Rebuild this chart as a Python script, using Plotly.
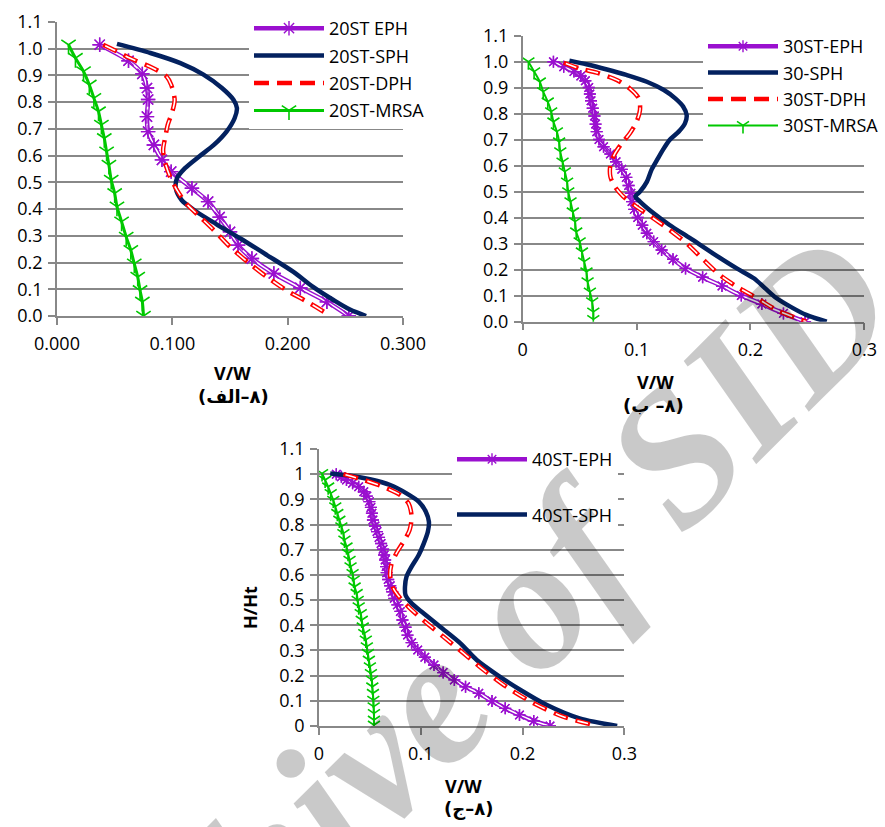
import plotly.graph_objects as go

W, H = 885, 827

# ------------------------------------------------------------------ data
# (8-a) 20-storey
h20_eph = [1.015, 0.955, 0.906, 0.853, 0.810, 0.746, 0.690, 0.640, 0.584, 0.540,
           0.478, 0.428, 0.370, 0.315, 0.265, 0.215, 0.159, 0.105, 0.053, 0.0]
v20_eph = [0.037, 0.062, 0.074, 0.078, 0.079, 0.078, 0.079, 0.084, 0.091, 0.099,
           0.117, 0.131, 0.141, 0.150, 0.157, 0.169, 0.188, 0.211, 0.234, 0.253]
h20_sph = [1.018, 0.984, 0.946, 0.903, 0.853, 0.809, 0.778, 0.740, 0.690, 0.640, 0.596, 0.553,
           0.515, 0.478, 0.434, 0.390, 0.344, 0.290, 0.228, 0.165, 0.109, 0.059, 0.024, 0.0]
v20_sph = [0.052, 0.081, 0.107, 0.127, 0.143, 0.153, 0.156, 0.154, 0.147, 0.136, 0.123, 0.111,
           0.104, 0.103, 0.108, 0.121, 0.138, 0.159, 0.182, 0.205, 0.222, 0.240, 0.254, 0.268]
h20_dph = [1.015, 0.990, 0.965, 0.928, 0.896, 0.865, 0.809, 0.765, 0.715, 0.671, 0.621, 0.571,
           0.521, 0.471, 0.421, 0.371, 0.321, 0.259, 0.196, 0.146, 0.096, 0.053, 0.006]
v20_dph = [0.040, 0.052, 0.063, 0.083, 0.095, 0.099, 0.102, 0.100, 0.096, 0.094, 0.092, 0.094,
           0.098, 0.104, 0.112, 0.124, 0.136, 0.150, 0.167, 0.182, 0.199, 0.217, 0.235]
h20_mrsa = [1.015, 0.965, 0.915, 0.865, 0.815, 0.765, 0.715, 0.665, 0.615, 0.565, 0.509,
            0.459, 0.409, 0.353, 0.296, 0.246, 0.196, 0.146, 0.096, 0.053, 0.0]
v20_mrsa = [0.010, 0.016, 0.023, 0.028, 0.032, 0.036, 0.0385, 0.041, 0.043, 0.045, 0.047,
            0.050, 0.052, 0.056, 0.060, 0.064, 0.067, 0.070, 0.072, 0.074, 0.075]

# (8-b) 30-storey
h30_eph = [1.0, 0.981, 0.962, 0.945, 0.927, 0.901, 0.876, 0.850, 0.821, 0.791, 0.760, 0.731,
           0.701, 0.673, 0.645, 0.615, 0.586, 0.555, 0.524, 0.494, 0.462, 0.432, 0.401, 0.371,
           0.340, 0.308, 0.276, 0.240, 0.205, 0.171, 0.137, 0.101, 0.068, 0.032, 0.0]
v30_eph = [0.027, 0.036, 0.045, 0.051, 0.055, 0.058, 0.059, 0.060, 0.0615, 0.063, 0.064, 0.065,
           0.067, 0.071, 0.077, 0.082, 0.087, 0.091, 0.093, 0.095, 0.096, 0.098, 0.101, 0.105,
           0.109, 0.115, 0.122, 0.132, 0.143, 0.158, 0.175, 0.192, 0.210, 0.229, 0.248]
h30_sph = [1.004, 0.990, 0.970, 0.949, 0.923, 0.891, 0.859, 0.827, 0.795, 0.763, 0.731, 0.699,
           0.660, 0.622, 0.583, 0.538, 0.500, 0.481, 0.462, 0.417, 0.372, 0.321, 0.263, 0.205,
           0.167, 0.128, 0.090, 0.058, 0.026, 0.0]
v30_sph = [0.041, 0.056, 0.074, 0.091, 0.109, 0.124, 0.134, 0.141, 0.144, 0.1425, 0.137, 0.129,
           0.123, 0.118, 0.113, 0.109, 0.103, 0.099, 0.103, 0.115, 0.129, 0.147, 0.167, 0.188,
           0.203, 0.213, 0.223, 0.235, 0.249, 0.267]
h30_dph = [0.996, 0.974, 0.958, 0.929, 0.897, 0.859, 0.814, 0.769, 0.724, 0.686, 0.647, 0.603,
           0.558, 0.519, 0.483, 0.442, 0.397, 0.353, 0.301, 0.237, 0.180, 0.135, 0.090, 0.045, 0.0]
v30_dph = [0.036, 0.050, 0.065, 0.083, 0.094, 0.102, 0.103, 0.100, 0.094, 0.087, 0.081, 0.077,
           0.077, 0.081, 0.088, 0.100, 0.115, 0.129, 0.144, 0.159, 0.173, 0.188, 0.206, 0.223, 0.249]
h30_mrsa = [1.0, 0.962, 0.923, 0.885, 0.846, 0.808, 0.769, 0.731, 0.692, 0.654, 0.615, 0.577,
            0.538, 0.500, 0.462, 0.423, 0.385, 0.346, 0.308, 0.269, 0.231, 0.192, 0.154, 0.115,
            0.077, 0.038, 0.009]
v30_mrsa = [0.005, 0.010, 0.015, 0.018, 0.022, 0.025, 0.027, 0.030, 0.032, 0.033, 0.035, 0.037,
            0.039, 0.040, 0.042, 0.044, 0.046, 0.047, 0.050, 0.052, 0.054, 0.056, 0.057, 0.059,
            0.061, 0.062, 0.062]

# (8-c) 40-storey
h40_eph = [1.0, 0.990, 0.977, 0.964, 0.950, 0.930, 0.913, 0.891, 0.868, 0.845, 0.818, 0.794,
           0.772, 0.749, 0.725, 0.702, 0.679, 0.659, 0.633, 0.609, 0.582, 0.557, 0.533, 0.507,
           0.481, 0.455, 0.421, 0.392, 0.361, 0.331, 0.302, 0.273, 0.242, 0.212, 0.183, 0.156,
           0.130, 0.099, 0.070, 0.044, 0.020, 0.0]
v40_eph = [0.017, 0.022, 0.027, 0.033, 0.039, 0.044, 0.047, 0.0495, 0.051, 0.052, 0.053, 0.055,
           0.057, 0.059, 0.061, 0.063, 0.064, 0.065, 0.066, 0.0665, 0.068, 0.070, 0.072, 0.074,
           0.077, 0.080, 0.082, 0.085, 0.087, 0.091, 0.097, 0.104, 0.113, 0.122, 0.133, 0.144,
           0.157, 0.170, 0.183, 0.197, 0.211, 0.227]
h40_sph = [1.003, 0.994, 0.980, 0.957, 0.924, 0.891, 0.851, 0.811, 0.772, 0.725, 0.679, 0.633,
           0.593, 0.553, 0.520, 0.487, 0.447, 0.394, 0.328, 0.262, 0.203, 0.143, 0.083, 0.030, 0.0]
v40_sph = [0.011, 0.031, 0.050, 0.070, 0.086, 0.098, 0.105, 0.108, 0.107, 0.103, 0.098, 0.091,
           0.086, 0.0845, 0.085, 0.091, 0.103, 0.119, 0.139, 0.155, 0.175, 0.198, 0.224, 0.256, 0.293]
h40_dph = [1.0, 0.977, 0.950, 0.917, 0.884, 0.831, 0.778, 0.732, 0.686, 0.639, 0.593, 0.547,
           0.507, 0.461, 0.408, 0.355, 0.289, 0.222, 0.156, 0.090, 0.037, 0.004]
v40_dph = [0.024, 0.044, 0.063, 0.080, 0.088, 0.091, 0.089, 0.083, 0.076, 0.071, 0.070, 0.073,
           0.080, 0.091, 0.106, 0.122, 0.142, 0.162, 0.184, 0.211, 0.240, 0.270]
h40_mrsa = [1.003, 0.977, 0.950, 0.924, 0.897, 0.871, 0.845, 0.818, 0.792, 0.765, 0.739, 0.712,
            0.686, 0.659, 0.633, 0.606, 0.580, 0.553, 0.527, 0.500, 0.474, 0.447, 0.421, 0.394,
            0.368, 0.342, 0.315, 0.289, 0.262, 0.236, 0.209, 0.183, 0.156, 0.130, 0.103, 0.077,
            0.050, 0.024, 0.004]
v40_mrsa = [0.003, 0.006, 0.009, 0.0115, 0.014, 0.016, 0.018, 0.020, 0.022, 0.024, 0.025, 0.027,
            0.0285, 0.030, 0.031, 0.033, 0.034, 0.035, 0.037, 0.038, 0.039, 0.041, 0.042, 0.043,
            0.0445, 0.046, 0.047, 0.048, 0.049, 0.050, 0.051, 0.052, 0.0524, 0.053, 0.0534, 0.0537,
            0.054, 0.054, 0.054]

x_ticks = [0.0, 0.1, 0.2, 0.3]
y_ticks = [0.0, 0.1, 0.2, 0.3, 0.4, 0.5, 0.6, 0.7, 0.8, 0.9, 1.0, 1.1]

names_a = ["20ST EPH", "20ST-SPH", "20ST-DPH", "20ST-MRSA"]
names_b = ["30ST-EPH", "30-SPH", "30ST-DPH", "30ST-MRSA"]
names_c = ["40ST-EPH", "40ST-SPH", "40ST-DPH", "40ST-MRSA"]

# ------------------------------------------------------------------ style
PURPLE = "#9A10CF"
NAVY = "#03215F"
RED = "#FF0000"
GREEN = "#00C800"
GRID = "#888888"
FONT = "Open Sans"

fig = go.Figure()


def add_panel(ax, leg, names, eph, sph, dph, mrsa, mk, mk_m, mw, legend_all=True):
    xa, ya = "x" + ax, "y" + ax
    he, ve = eph
    hs, vs = sph
    hd, vd = dph
    hm, vm = mrsa
    sp = dict(shape="spline", smoothing=0.8)
    # EPH : double purple line with asterisks
    fig.add_trace(go.Scatter(x=ve, y=he, mode="lines+markers", name=names[0], legend=leg,
                             legendgroup=leg + "e", xaxis=xa, yaxis=ya,
                             line=dict(color=PURPLE, width=4.5, **sp),
                             marker=dict(symbol="asterisk-open", size=mk, color=PURPLE,
                                         line=dict(color=PURPLE, width=1.4))))
    fig.add_trace(go.Scatter(x=ve, y=he, mode="lines", showlegend=False, legendgroup=leg + "e",
                             legend=leg, xaxis=xa, yaxis=ya, hoverinfo="skip",
                             line=dict(color="white", width=1.6, **sp)))
    fig.add_trace(go.Scatter(x=ve, y=he, mode="markers", showlegend=False, legendgroup=leg + "e",
                             legend=leg, xaxis=xa, yaxis=ya, hoverinfo="skip",
                             marker=dict(symbol="asterisk-open", size=mk, color=PURPLE,
                                         line=dict(color=PURPLE, width=1.4))))
    # SPH : thick navy
    fig.add_trace(go.Scatter(x=vs, y=hs, mode="lines", name=names[1], legend=leg,
                             legendgroup=leg + "s", xaxis=xa, yaxis=ya,
                             line=dict(color=NAVY, width=4.5, **sp)))
    # DPH : hollow red dashes
    fig.add_trace(go.Scatter(x=vd, y=hd, mode="lines", name=names[2], legend=leg,
                             showlegend=legend_all, legendgroup=leg + "d", xaxis=xa, yaxis=ya,
                             line=dict(color=RED, width=4.5, dash="15px,8px", **sp)))
    fig.add_trace(go.Scatter(x=vd, y=hd, mode="lines", showlegend=False, legendgroup=leg + "d",
                             legend=leg, xaxis=xa, yaxis=ya, hoverinfo="skip",
                             line=dict(color="white", width=1.6, dash="0px,2px,11px,10px", **sp)))
    # MRSA : green line with arrow heads
    fig.add_trace(go.Scatter(x=vm, y=hm, mode="lines+markers", name=names[3], legend=leg,
                             showlegend=legend_all, legendgroup=leg + "m", xaxis=xa, yaxis=ya,
                             line=dict(color=GREEN, width=mw, **sp),
                             marker=dict(symbol="y-down-open", size=mk_m, color=GREEN,
                                         line=dict(color=GREEN, width=1.6))))


add_panel("", "legend", names_a, (h20_eph, v20_eph), (h20_sph, v20_sph),
          (h20_dph, v20_dph), (h20_mrsa, v20_mrsa), 12, 12, 3)
add_panel("2", "legend2", names_b, (h30_eph, v30_eph), (h30_sph, v30_sph),
          (h30_dph, v30_dph), (h30_mrsa, v30_mrsa), 10, 10, 2)
add_panel("3", "legend3", names_c, (h40_eph, v40_eph), (h40_sph, v40_sph),
          (h40_dph, v40_dph), (h40_mrsa, v40_mrsa), 10, 10, 2, legend_all=False)


def px_x(p):
    return p / W


def px_y(p):
    return 1 - p / H


tickfont = dict(family=FONT, size=18, color="black")


def xaxis_cfg(x0, x1, anchor, fmt):
    d = dict(domain=[px_x(x0), px_x(x1)], anchor=anchor, range=[0, 0.3], tickvals=x_ticks,
             showgrid=False, zeroline=False, showline=True, linecolor=GRID, linewidth=1.5,
             ticks="outside", ticklen=7, tickwidth=1.5, tickcolor=GRID, tickfont=tickfont,
             ticklabelstandoff=4, automargin=False, fixedrange=True)
    if fmt:
        d["tickformat"] = fmt
    return d


def yaxis_cfg(y0, y1, anchor, fmt):
    d = dict(domain=[px_y(y1), px_y(y0)], anchor=anchor, range=[0, 1.1], tickvals=y_ticks,
             showgrid=True, gridcolor=GRID, gridwidth=1.5, zeroline=False, showline=True,
             linecolor=GRID, linewidth=1.5, ticks="outside", ticklen=7, tickwidth=1.5,
             tickcolor=GRID, tickfont=tickfont, ticklabelstandoff=2, automargin=False,
             fixedrange=True)
    if fmt:
        d["tickformat"] = fmt
    return d


legfont = dict(family=FONT, size=18, color="black")

fig.update_layout(
    width=W, height=H, margin=dict(l=0, r=0, t=0, b=0),
    paper_bgcolor="white", plot_bgcolor="white",
    xaxis=xaxis_cfg(57, 403, "y", ".3f"),
    yaxis=yaxis_cfg(22, 316, "x", ".1f"),
    xaxis2=xaxis_cfg(522.7, 864.3, "y2", None),
    yaxis2=yaxis_cfg(35.7, 321.7, "x2", ".1f"),
    xaxis3=xaxis_cfg(319, 624.3, "y3", None),
    yaxis3=yaxis_cfg(449, 726, "x3", None),
    legend=dict(x=px_x(249), y=px_y(10), xanchor="left", yanchor="top", bgcolor="white",
                font=legfont, itemwidth=70, tracegroupgap=1, borderwidth=0),
    legend2=dict(x=px_x(703), y=px_y(28), xanchor="left", yanchor="top", bgcolor="white",
                 font=legfont, itemwidth=70, tracegroupgap=0, borderwidth=0),
    legend3=dict(x=px_x(452), y=px_y(441), xanchor="left", yanchor="top", bgcolor="white",
                 font=legfont, itemwidth=70, tracegroupgap=29, borderwidth=0),
    showlegend=True,
)

title_font = dict(family=FONT, size=18, color="black", weight="bold")
fa_font = dict(family="DejaVu Sans", size=18, color="black", weight="bold")
RLI, PDI = "\u2067", "\u2069"

annos = [
    ("V/W", 232, 373, title_font, 0),
    ("(" + RLI + "۸–الف" + PDI + ")", 233, 396, fa_font, 0),
    ("V/W", 655, 382, title_font, 0),
    ("(" + RLI + "۸– ب" + PDI + ")", 653, 405, fa_font, 0),
    ("V/W", 463, 786, title_font, 0),
    ("(" + RLI + "۸–ج" + PDI + ")", 468, 809, fa_font, 0),
    ("H/Ht", 250, 608, title_font, -90),
]
for txt, x, y, f, ang in annos:
    fig.add_annotation(text=txt, x=px_x(x), y=px_y(y), xref="paper", yref="paper",
                       showarrow=False, font=f, textangle=ang, xanchor="center", yanchor="middle")

# translucent watermark over the whole page
WM_X, WM_Y = 440, 690
fig.add_annotation(text="Archive of SID", x=px_x(WM_X), y=px_y(WM_Y), xref="paper", yref="paper",
                   showarrow=False, textangle=-45, xanchor="center", yanchor="middle",
                   font=dict(family="Liberation Serif", size=190, color="rgba(0,0,0,0.21)",
                             style="italic", weight="bold"))

fig.write_html("out.html", config={"displayModeBar": False},
               post_script="document.body.style.margin='0px';")
